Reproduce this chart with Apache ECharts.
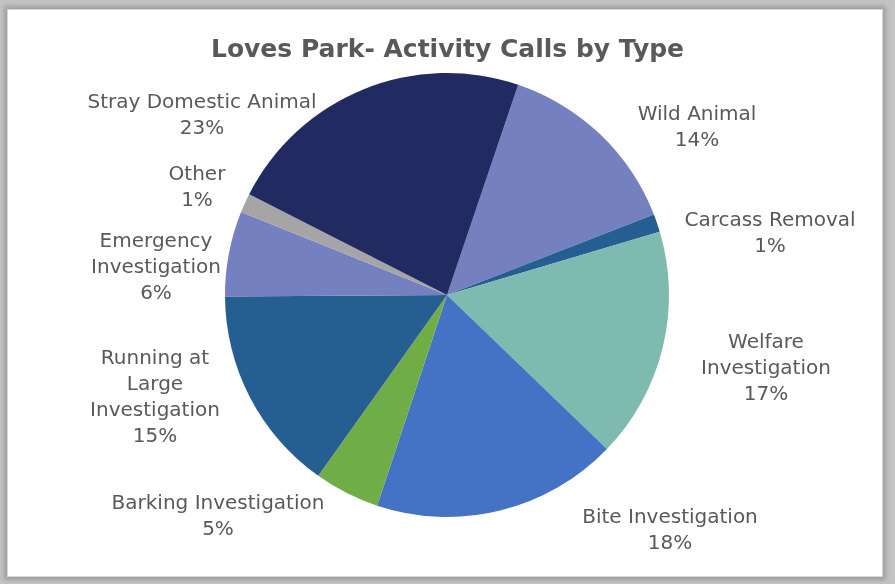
<!DOCTYPE html>
<html>
<head>
<meta charset="utf-8">
<script src="https://cdn.jsdelivr.net/npm/echarts@6/dist/echarts.min.js"></script>
<style>
  html, body { margin: 0; padding: 0; width: 895px; height: 584px; overflow: hidden; background: #c4c4c4; }
  .frame {
    position: absolute; left: 7px; top: 9px; width: 874px; height: 566px;
    background: #fff; border: 1px solid #d6d6d6;
    box-shadow: 0 0 5px 3px #9c9c9c;
  }
  #chart { position: absolute; left: 0; top: 0; width: 895px; height: 584px; }
</style>
</head>
<body>
<div class="frame"></div>
<div id="chart"></div>
<script>
// slices clockwise, starting just right of 12 o'clock
const categories = ['Wild Animal', 'Carcass Removal', 'Welfare Investigation', 'Bite Investigation',
  'Barking Investigation', 'Running at Large Investigation', 'Emergency Investigation', 'Other',
  'Stray Domestic Animal']
const labelNames = ['Wild Animal', 'Carcass Removal', 'Welfare\nInvestigation', 'Bite Investigation',
  'Barking Investigation', 'Running at\nLarge\nInvestigation', 'Emergency\nInvestigation', 'Other',
  'Stray Domestic Animal']
const shares = [13.9, 1.3, 16.8, 17.9, 4.75, 15.05, 6.2, 1.4, 22.7]
const colors = ['#7480c0', '#255e91', '#7fbab0', '#4472c4', '#70ad47', '#255e91', '#7480c0', '#a5a5a5', '#212b61']

// label centres relative to the pie centre
const cx = 447, cy = 295
const labelOffsets = [[250, -167], [323, -61], [319, 74], [223, 236], [-229, 222],
  [-292, 103], [-291, -27], [-250, -107], [-245, -179]]

const chart = echarts.init(document.getElementById('chart'))
const option = {
  backgroundColor: 'transparent',
  title: {
    text: 'Loves Park- Activity Calls by Type',
    left: 'center',
    top: 33,
    textStyle: { fontFamily: 'DejaVu Sans', fontSize: 25, fontWeight: 'bold', color: '#595959' }
  },
  series: [
    {
      type: 'pie',
      center: [cx, cy],
      radius: 222,
      startAngle: 71.3,
      clockwise: true,
      animation: false,
      data: categories.map((c, i) => ({
        name: c,
        value: shares[i],
        itemStyle: { color: colors[i] }
      })),
      itemStyle: { borderWidth: 0 },
      label: {
        position: 'outside',
        fontFamily: 'DejaVu Sans',
        fontSize: 20,
        lineHeight: 26,
        color: '#595959',
        align: 'center',
        formatter: function (p) {
          return labelNames[p.dataIndex] + '\n' + Math.round(p.percent) + '%'
        }
      },
      labelLine: { show: false },
      labelLayout: function (params) {
        const o = labelOffsets[params.dataIndex]
        return { x: cx + o[0], y: cy + o[1], align: 'center', verticalAlign: 'middle' }
      },
      emphasis: { disabled: true }
    }
  ]
}
chart.setOption(option)
</script>
</body>
</html>
